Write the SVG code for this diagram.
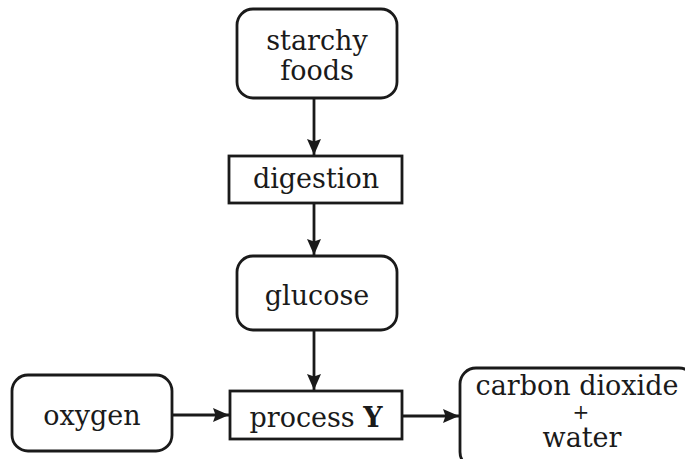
<svg xmlns="http://www.w3.org/2000/svg" width="685" height="459" viewBox="0 0 685 459">
<defs>
<style>
.box{fill:#fff;stroke:#1a1a1a;stroke-width:2.8}
.t{font-family:"DejaVu Serif","Liberation Serif",serif;font-size:27px;fill:#1a1a1a;text-anchor:middle}
.c{stroke:#1a1a1a;stroke-width:2.8;fill:none}
</style>
<marker id="ah" viewBox="0 0 16 14" refX="16" refY="7" markerWidth="16" markerHeight="14" markerUnits="userSpaceOnUse" orient="auto">
<path d="M0,0 L16,7 L0,14 L2.5,7 Z" fill="#1a1a1a"/>
</marker>
</defs>
<rect width="685" height="459" fill="#fff"/>
<g id="connectors">
<line class="c" x1="314" y1="98" x2="314" y2="155" marker-end="url(#ah)"/>
<line class="c" x1="314" y1="203" x2="314" y2="255" marker-end="url(#ah)"/>
<line class="c" x1="314" y1="330" x2="314" y2="390" marker-end="url(#ah)"/>
<line class="c" x1="172" y1="415" x2="229" y2="415" marker-end="url(#ah)"/>
<line class="c" x1="402" y1="416" x2="459" y2="416" marker-end="url(#ah)"/>
</g>
<g id="starchy">
<rect class="box" x="237" y="9" width="160" height="89" rx="16"/>
<text class="t" x="317" y="50">starchy</text>
<text class="t" x="317" y="80">foods</text>
</g>
<g id="digestion">
<rect class="box" x="229" y="156" width="173" height="47"/>
<text class="t" x="316" y="188">digestion</text>
</g>
<g id="glucose">
<rect class="box" x="237" y="256" width="160" height="74" rx="16"/>
<text class="t" x="317" y="305">glucose</text>
</g>
<g id="oxygen">
<rect class="box" x="12" y="375" width="160" height="76" rx="16"/>
<text class="t" x="92" y="425">oxygen</text>
</g>
<g id="processY">
<rect class="box" x="230" y="391" width="172" height="48"/>
<text class="t" x="316" y="427">process <tspan font-weight="bold">Y</tspan></text>
</g>
<g id="products">
<rect class="box" x="460" y="368" width="235" height="100" rx="16"/>
<text class="t" x="577" y="395">carbon dioxide</text>
<text class="t" x="581" y="419" style="font-size:20px">+</text>
<text class="t" x="582" y="447">water</text>
</g>
</svg>
